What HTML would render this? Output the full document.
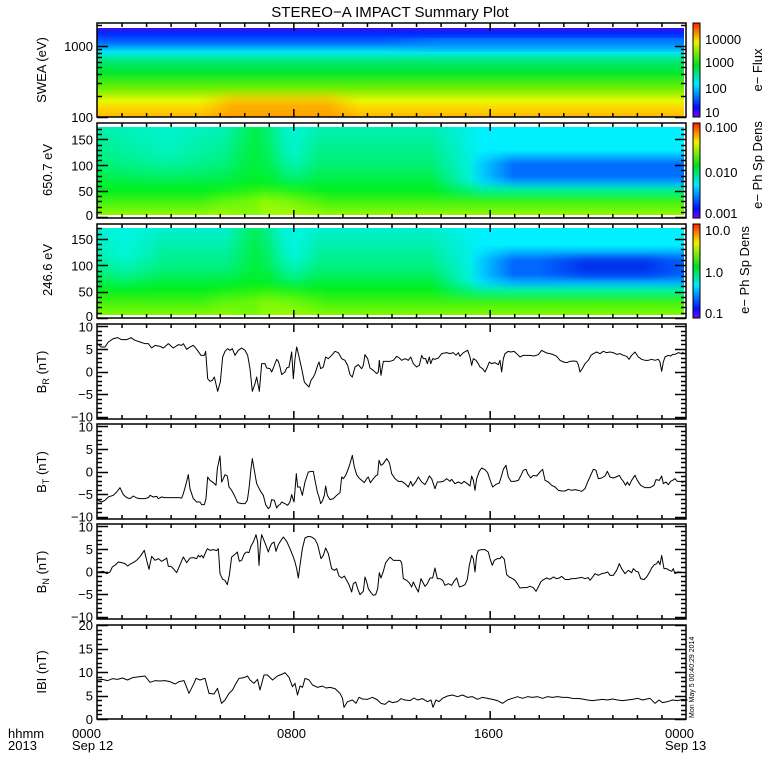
<!DOCTYPE html>
<html><head><meta charset="utf-8">
<style>
html,body{margin:0;padding:0;background:#fff;}
svg{display:block;}
text{font-family:"Liberation Sans",sans-serif;fill:#000;}
</style></head>
<body>
<svg id="s" width="780" height="780" viewBox="0 0 780 780" xmlns="http://www.w3.org/2000/svg">
<defs>
<linearGradient id="rb" x1="0" y1="1" x2="0" y2="0">
<stop offset="0" stop-color="#8000ff"/><stop offset="0.1" stop-color="#0010ff"/>
<stop offset="0.35" stop-color="#00e8ff"/><stop offset="0.55" stop-color="#00e020"/>
<stop offset="0.8" stop-color="#f0f000"/><stop offset="1" stop-color="#ff2000"/>
</linearGradient>
<linearGradient id="g1" x1="0" y1="0" x2="0" y2="1">
<stop offset="0" stop-color="#3a10e8"/><stop offset="0.06" stop-color="#0028ff"/>
<stop offset="0.17" stop-color="#0070ff"/><stop offset="0.27" stop-color="#00e8f0"/>
<stop offset="0.38" stop-color="#00e870"/><stop offset="0.5" stop-color="#00e830"/>
<stop offset="0.68" stop-color="#70f000"/><stop offset="0.82" stop-color="#e8f800"/>
<stop offset="0.92" stop-color="#ffd000"/><stop offset="1" stop-color="#ffb800"/>
</linearGradient>
<linearGradient id="g2" x1="0" y1="0" x2="0" y2="1">
<stop offset="0" stop-color="#00f0b0"/><stop offset="0.45" stop-color="#00f070"/>
<stop offset="0.72" stop-color="#00f020"/><stop offset="1" stop-color="#90f800"/>
</linearGradient>
<linearGradient id="g3" x1="0" y1="0" x2="0" y2="1">
<stop offset="0" stop-color="#00f0d0"/><stop offset="0.45" stop-color="#00f080"/>
<stop offset="0.7" stop-color="#00f020"/><stop offset="1" stop-color="#80f800"/>
</linearGradient>
<linearGradient id="wL" x1="0" y1="0" x2="1" y2="0"><stop offset="0" stop-color="#000"/><stop offset="0.2" stop-color="#fff"/><stop offset="1" stop-color="#fff"/></linearGradient>
<linearGradient id="wH" x1="0" y1="0" x2="1" y2="0"><stop offset="0" stop-color="#000"/><stop offset="0.3" stop-color="#fff"/><stop offset="0.7" stop-color="#fff"/><stop offset="1" stop-color="#000"/></linearGradient>
<linearGradient id="wVb" x1="0" y1="0" x2="0" y2="1"><stop offset="0" stop-color="#000"/><stop offset="0.6" stop-color="#fff"/><stop offset="1" stop-color="#fff"/></linearGradient>
<linearGradient id="wVt" x1="0" y1="0" x2="0" y2="1"><stop offset="0" stop-color="#fff"/><stop offset="0.4" stop-color="#fff"/><stop offset="1" stop-color="#000"/></linearGradient>
<mask id="mL" maskContentUnits="objectBoundingBox"><rect width="1" height="1" fill="url(#wL)"/></mask>
<mask id="mH" maskContentUnits="objectBoundingBox"><rect width="1" height="1" fill="url(#wH)"/></mask>
<mask id="mVt" maskContentUnits="objectBoundingBox"><rect width="1" height="1" fill="url(#wVt)"/></mask>
<mask id="mVb" maskContentUnits="objectBoundingBox"><rect width="1" height="1" fill="url(#wVb)"/></mask>
<linearGradient id="cyT" x1="0" y1="0" x2="0" y2="1"><stop offset="0" stop-color="#00f0ff"/><stop offset="0.7" stop-color="#00f0ff"/><stop offset="1" stop-color="#00f0ff" stop-opacity="0"/></linearGradient>
<linearGradient id="blB" x1="0" y1="0" x2="0" y2="1"><stop offset="0" stop-color="#0060ff" stop-opacity="0"/><stop offset="0.35" stop-color="#0060ff"/><stop offset="0.65" stop-color="#0060ff"/><stop offset="1" stop-color="#0060ff" stop-opacity="0"/></linearGradient>
<linearGradient id="blD" x1="0" y1="0" x2="0" y2="1"><stop offset="0" stop-color="#0028e8" stop-opacity="0"/><stop offset="0.4" stop-color="#0028e8"/><stop offset="0.6" stop-color="#0028e8"/><stop offset="1" stop-color="#0028e8" stop-opacity="0"/></linearGradient>
<linearGradient id="cyS" x1="0" y1="0" x2="1" y2="0"><stop offset="0" stop-color="#00f8f0" stop-opacity="0"/><stop offset="0.5" stop-color="#00f8f0"/><stop offset="1" stop-color="#00f8f0" stop-opacity="0"/></linearGradient>
<linearGradient id="grS" x1="0" y1="0" x2="1" y2="0"><stop offset="0" stop-color="#00f010" stop-opacity="0"/><stop offset="0.5" stop-color="#00f010"/><stop offset="1" stop-color="#00f010" stop-opacity="0"/></linearGradient>
<linearGradient id="ylS" x1="0" y1="0" x2="1" y2="0"><stop offset="0" stop-color="#d0ff00" stop-opacity="0"/><stop offset="0.5" stop-color="#d0ff00"/><stop offset="1" stop-color="#d0ff00" stop-opacity="0"/></linearGradient>
<linearGradient id="orS" x1="0" y1="0" x2="1" y2="0"><stop offset="0" stop-color="#ff9000" stop-opacity="0"/><stop offset="0.2" stop-color="#ff9000"/><stop offset="0.8" stop-color="#ff9000"/><stop offset="1" stop-color="#ff9000" stop-opacity="0"/></linearGradient>
<clipPath id="c1"><rect x="97" y="28" width="587" height="89"/></clipPath>
<clipPath id="c2"><rect x="97" y="127" width="587" height="88"/></clipPath>
<clipPath id="c3"><rect x="97" y="228" width="587" height="87"/></clipPath>
</defs>
<text x="390" y="17" font-size="15" text-anchor="middle">STEREO−A IMPACT Summary Plot</text>

<g clip-path="url(#c1)">
<rect x="97" y="28" width="587" height="89" fill="url(#g1)"/>
<rect x="200" y="88" width="160" height="29" fill="url(#orS)" opacity="0.6" mask="url(#mVb)"/>
<rect x="380" y="38" width="310" height="14" fill="#00a8ff" opacity="0.35" mask="url(#mL)"/>
</g>
<g clip-path="url(#c2)">
<rect x="97" y="127" width="587" height="88" fill="url(#g2)"/>
<rect x="97" y="127" width="140" height="60" fill="url(#cyS)" opacity="0.5" mask="url(#mVt)"/>
<rect x="225" y="127" width="60" height="90" fill="url(#grS)" opacity="0.6"/>
<rect x="270" y="127" width="50" height="65" fill="url(#cyS)" opacity="0.6" mask="url(#mVt)"/>
<rect x="200" y="182" width="130" height="33" fill="url(#ylS)" opacity="0.6" mask="url(#mVb)"/>
<rect x="430" y="127" width="260" height="75" fill="url(#cyT)" mask="url(#mL)"/>
<rect x="470" y="150" width="220" height="40" fill="url(#blB)" opacity="0.9" mask="url(#mL)"/>
</g>
<g clip-path="url(#c3)">
<rect x="97" y="228" width="587" height="87" fill="url(#g3)"/>
<rect x="85" y="228" width="80" height="65" fill="url(#cyS)" opacity="0.7" mask="url(#mVt)"/>
<rect x="225" y="228" width="60" height="90" fill="url(#grS)" opacity="0.6"/>
<rect x="270" y="228" width="50" height="65" fill="url(#cyS)" opacity="0.7" mask="url(#mVt)"/>
<rect x="200" y="282" width="130" height="33" fill="url(#ylS)" opacity="0.5" mask="url(#mVb)"/>
<rect x="430" y="228" width="260" height="75" fill="url(#cyT)" mask="url(#mL)"/>
<rect x="470" y="245" width="220" height="45" fill="url(#blB)" opacity="0.95" mask="url(#mL)"/>
<rect x="540" y="252" width="150" height="30" fill="url(#blD)" opacity="0.8" mask="url(#mH)"/>
</g>

<rect x="693" y="23" width="7" height="94" fill="url(#rb)" stroke="#000" stroke-width="1"/>
<rect x="693" y="123" width="7" height="95" fill="url(#rb)" stroke="#000" stroke-width="1"/>
<rect x="693" y="224" width="7" height="94" fill="url(#rb)" stroke="#000" stroke-width="1"/>
<g font-size="13">
<text x="705" y="44">10000</text><text x="705" y="67">1000</text><text x="705" y="93">100</text><text x="705" y="117">10</text>
<text x="705" y="132">0.100</text><text x="705" y="177">0.010</text><text x="705" y="218">0.001</text>
<text x="705" y="235">10.0</text><text x="705" y="277">1.0</text><text x="705" y="318">0.1</text>
<text transform="translate(762,70) rotate(-90)" text-anchor="middle">e− Flux</text>
<text transform="translate(762,165) rotate(-90)" text-anchor="middle">e− Ph Sp Dens</text>
<text transform="translate(749,270) rotate(-90)" text-anchor="middle">e− Ph Sp Dens</text>
<text transform="translate(46,70) rotate(-90)" text-anchor="middle">SWEA (eV)</text>
<text transform="translate(52,170) rotate(-90)" text-anchor="middle">650.7 eV</text>
<text transform="translate(52,270) rotate(-90)" text-anchor="middle">246.6 eV</text>
<text transform="translate(46,372) rotate(-90)" text-anchor="middle">B<tspan font-size="9" dy="3">R</tspan><tspan dy="-3"> (nT)</tspan></text>
<text transform="translate(46,472) rotate(-90)" text-anchor="middle">B<tspan font-size="9" dy="3">T</tspan><tspan dy="-3"> (nT)</tspan></text>
<text transform="translate(46,572) rotate(-90)" text-anchor="middle">B<tspan font-size="9" dy="3">N</tspan><tspan dy="-3"> (nT)</tspan></text>
<text transform="translate(46,672) rotate(-90)" text-anchor="middle">IBI (nT)</text>
<text x="8" y="738">hhmm</text><text x="8" y="750">2013</text>
<text x="72" y="738">0000</text><text x="72" y="750">Sep 12</text>
<text x="277" y="738">0800</text>
<text x="474" y="738">1600</text>
<text x="665" y="738">0000</text><text x="665" y="750">Sep 13</text>
</g>
<text transform="translate(694,718) rotate(-90)" font-size="7">Mon May  5 00:40:29 2014</text>

<g id="ax" fill="none" stroke="#000" stroke-width="1"></g>
<g id="lab" font-size="13" text-anchor="end"></g>

<g fill="none" stroke="#000" stroke-width="1" stroke-linejoin="round">
<polyline vector-effect="non-scaling-stroke" transform="translate(95,322) scale(0.33333)" points="8,65 18,75 30,75 40,60 55,50 68,47 80,53 95,53 108,47 120,55 135,60 150,65 160,65 170,78 180,70 195,73 205,78 220,65 235,78 250,68 260,70 265,65 275,82 285,75 295,70 305,82 318,100 328,100 332,88 338,170 345,178 352,175 358,165 368,208 376,180 383,105 390,88 398,80 405,85 412,80 420,100 430,85 440,78 450,85 458,100 465,140 472,208 480,185 485,165 493,208 500,125 510,125 515,138 525,140 530,150 535,138 545,112 550,118 555,135 560,158 570,150 575,138 582,135 590,90 595,170 600,110 605,75 610,95 620,140 628,180 635,188 642,195 648,175 655,165 660,155 668,130 672,120 677,140 685,135 692,105 700,110 710,100 720,88 730,92 740,110 750,115 758,130 765,158 772,165 780,135 790,128 800,140 805,130 810,98 818,110 825,138 835,145 845,155 850,150 853,115 858,160 865,118 872,118 885,118"/>
<polyline vector-effect="non-scaling-stroke" transform="translate(390,322) scale(0.33333)" points="0,118 10,115 20,103 28,108 35,115 45,110 55,115 62,105 70,125 80,135 88,130 95,100 100,110 107,110 112,125 118,105 122,125 128,110 135,112 145,108 155,95 170,92 180,95 190,92 198,100 205,92 210,103 220,92 233,85 240,105 245,130 250,110 258,115 265,125 270,135 278,140 285,150 292,135 298,120 305,125 315,122 325,128 330,115 335,150 340,110 345,95 355,88 362,90 372,88 380,95 390,105 400,100 410,100 420,100 432,102 445,98 455,85 460,88 470,93 480,95 490,98 500,103 510,115 520,120 530,122 540,118 550,117 560,118 565,128 570,150 578,138 585,125 595,115 603,100 610,95 620,90 630,95 640,88 650,92 660,90 670,92 680,97 690,95 700,100 710,103 717,112 725,100 735,90 745,105 755,112 765,115 775,115 785,112 795,115 805,112 810,120 815,148 820,120 825,105 835,100 842,102 848,97 855,97 865,92 875,95 880,90"/>
<polyline vector-effect="non-scaling-stroke" transform="translate(95,322) scale(0.33333)" points="8,535 20,540 30,535 40,525 55,520 65,510 75,497 85,518 95,527 105,530 115,522 125,528 135,530 150,530 160,527 165,520 175,525 185,523 190,530 200,525 210,527 220,527 235,527 250,527 260,528 265,515 272,490 280,458 285,500 295,530 305,540 315,540 320,548 328,548 333,530 338,465 345,475 355,482 363,490 367,440 375,402 380,480 385,470 390,458 397,462 402,495 410,505 418,520 428,542 440,545 450,545 457,535 462,500 468,440 472,410 478,445 485,485 495,505 505,520 512,548 520,560 525,555 530,533 538,535 545,558 550,550 555,548 560,540 570,545 578,550 585,540 590,518 597,540 600,505 604,455 608,495 615,495 622,520 630,480 640,450 650,448 655,448 660,475 667,510 672,525 677,545 683,535 688,520 692,492 697,520 705,533 715,530 725,520 735,512 740,465 745,470 752,460 760,440 765,425 772,400 778,435 785,458 792,468 800,475 808,482 815,470 820,465 826,482 835,470 842,462 848,458 852,415 858,430 865,425 875,410 882,420 885,430"/>
<polyline vector-effect="non-scaling-stroke" transform="translate(390,322) scale(0.33333)" points="0,430 5,455 15,470 25,478 35,478 45,485 55,495 62,478 68,492 78,478 85,465 95,480 105,488 112,475 118,462 125,470 130,485 135,500 142,480 150,480 160,478 170,470 180,478 185,472 195,485 205,480 215,485 222,478 232,485 240,492 245,462 250,475 255,505 260,470 268,448 275,438 285,443 293,452 298,468 308,495 318,487 328,483 335,460 340,442 348,430 355,465 363,478 373,478 385,475 393,460 400,445 408,442 413,455 422,468 430,460 440,462 450,450 458,442 465,475 475,480 485,490 495,495 505,505 515,507 525,507 535,502 545,505 555,503 565,505 575,508 585,500 593,480 602,460 610,442 618,445 625,470 635,468 645,462 652,448 660,465 670,468 678,465 688,460 695,472 700,478 707,490 712,480 718,490 725,475 735,460 742,475 752,490 765,497 780,497 792,490 798,473 808,475 815,462 820,485 828,480 835,488 842,478 848,475 855,470 862,478 870,478 880,482"/>
<polyline vector-effect="non-scaling-stroke" transform="translate(95,322) scale(0.33333)" points="8,750 25,748 35,755 45,750 52,735 62,728 70,720 80,722 90,725 98,732 108,725 118,720 128,712 138,700 148,685 155,715 162,742 170,703 180,715 190,710 200,718 210,712 215,708 220,733 228,733 235,740 245,752 255,728 265,705 275,722 285,708 295,707 305,710 310,700 315,705 320,700 325,708 330,695 337,680 345,685 355,683 365,686 370,680 375,755 383,772 390,775 397,788 403,760 410,705 420,697 427,690 433,718 440,715 448,695 455,690 462,692 468,672 475,660 483,638 488,660 492,730 497,660 500,638 505,650 512,668 520,690 525,675 530,665 537,660 543,688 550,668 558,655 565,645 575,658 585,680 595,705 600,720 605,740 610,768 615,730 622,680 630,648 640,643 650,645 660,652 668,668 678,710 685,700 692,678 700,695 710,740 718,745 725,740 732,762 740,768 748,762 755,775 762,788 770,810 775,785 782,780 788,800 795,818 805,808 810,765 815,780 820,800 828,812 835,820 842,818 848,800 853,752 858,768 865,748 872,722 880,712 885,705"/>
<polyline vector-effect="non-scaling-stroke" transform="translate(390,322) scale(0.33333)" points="0,705 10,715 30,715 35,722 40,770 50,775 58,783 65,795 70,780 77,795 85,810 93,770 98,780 105,793 112,785 120,768 128,768 135,738 142,770 150,770 158,775 165,790 175,785 185,790 192,778 200,768 208,795 215,793 225,788 232,772 238,730 245,700 250,710 255,750 260,700 265,685 275,683 285,683 295,690 300,710 307,730 313,715 322,710 330,710 335,703 343,712 350,758 358,765 368,770 375,775 382,785 390,798 400,797 410,797 420,793 430,797 438,808 445,795 452,780 460,773 470,768 480,772 490,765 500,770 508,768 515,763 525,772 535,773 545,770 555,770 565,768 575,766 585,770 595,767 600,775 608,765 615,755 625,760 635,755 645,753 653,750 660,760 670,760 680,745 688,725 695,740 705,755 715,745 725,752 730,740 738,748 745,750 752,770 762,773 770,765 778,752 785,738 793,728 800,725 805,717 810,728 815,700 822,740 830,740 838,745 845,748 850,740 855,755 862,750 870,750 880,752"/>
<polyline vector-effect="non-scaling-stroke" transform="translate(0,600) scale(0.5,0.33333)" points="195,240 205,238 215,242 225,236 235,238 245,234 255,240 265,233 280,230 290,228 300,247 310,242 320,243 330,242 340,245 350,252 358,245 368,242 378,280 388,250 392,235 400,240 410,235 418,280 428,282 435,265 443,310 450,300 458,280 465,270 472,250 478,235 488,233 495,228 500,240 508,250 515,238 520,270 528,225 535,225 545,240 555,228 565,222 570,218 578,232 585,260 590,250 595,285 600,258 605,262 610,235 618,240 625,255 635,262 645,258 652,264 660,262 670,266 680,280 685,295 688,322 695,305 705,300 712,310 718,292 725,297 735,298 745,292 755,300 762,310 770,313 778,303 785,308 795,305 802,296 810,300 820,302 828,294 835,300 845,296 855,305 862,300 866,322 872,300 878,305 885,295 895,288 905,285 915,290 925,285 935,292 945,290 955,298 965,292 975,295 985,298 995,302 1005,310 1015,300 1025,295 1035,290 1045,295 1055,290 1065,292 1075,290 1085,295 1095,290 1105,292 1115,290 1125,292 1135,292 1145,295 1160,296 1175,300 1185,302 1195,300 1205,298 1215,300 1225,297 1235,300 1245,302 1255,300 1265,298 1275,295 1285,300 1290,298 1300,295 1310,310 1318,300 1325,308 1335,305 1345,300 1355,302 1365,298 1375,300"/>
</g>
</svg>
<script>
(function(){
var ax=document.getElementById('ax'),lab=document.getElementById('lab');
var X0=97,X1=686,d='';
function L(x1,y1,x2,y2){d+='M'+x1+' '+y1+'L'+x2+' '+y2;}
function T(x,y,s){var t=document.createElementNS('http://www.w3.org/2000/svg','text');t.setAttribute('x',x);t.setAttribute('y',y);t.textContent=s;lab.appendChild(t);}
var P=[[23,117],[123,218],[224,318],[324,419],[424,519],[524,619],[625,719]];
P.forEach(function(p){
  d+='M'+X0+' '+p[0]+'H'+X1+'V'+p[1]+'H'+X0+'Z';
  for(var h=1;h<24;h++){var x=X0+(X1-X0)*h/24+0.5;var l=(h%8==0)?8:4;L(x,p[0],x,p[0]+l);L(x,p[1],x,p[1]-l);}
});
function yt(y,major,top,bot){if(y<top||y>bot)return;var l=major?11:5;y=Math.round(y)+0.5;L(X0,y,X0+l,y);L(X1,y,X1-l,y);}
for(var dec=100;dec<=1000;dec*=10)for(var k=1;k<10;k++){var e=dec*k;var y=117-71*Math.log10(e/100);yt(y,k==1,23,117);}
T(93,51,'1000');T(93,122,'100');
for(var v=0;v<=170;v+=10){yt(217-0.517*v,v%50==0,123,218);yt(318-0.527*v,v%50==0,224,318);}
[0,50,100,150].forEach(function(v){T(93,Math.min(217-0.517*v+5,220),v);T(93,Math.min(318-0.527*v+5,321),v);});
[3,4,5].forEach(function(i){var p=P[i],c=(p[0]+p[1])/2,s=4.52;
 for(var v=-10;v<=10;v++)yt(c-v*s,v%5==0,p[0],p[1]);
 [10,5,0,-5,-10].forEach(function(v){T(93,c-v*s+5,v<0?'−'+(-v):v);});});
for(var v=0;v<=20;v++)yt(719-v*4.7,v%5==0,625,719);
[0,5,10,15,20].forEach(function(v){T(93,719-v*4.7+5,v);});
var pa=document.createElementNS('http://www.w3.org/2000/svg','path');pa.setAttribute('d',d);pa.setAttribute('stroke-width','1.5');ax.appendChild(pa);
})();
</script>
</body></html>
